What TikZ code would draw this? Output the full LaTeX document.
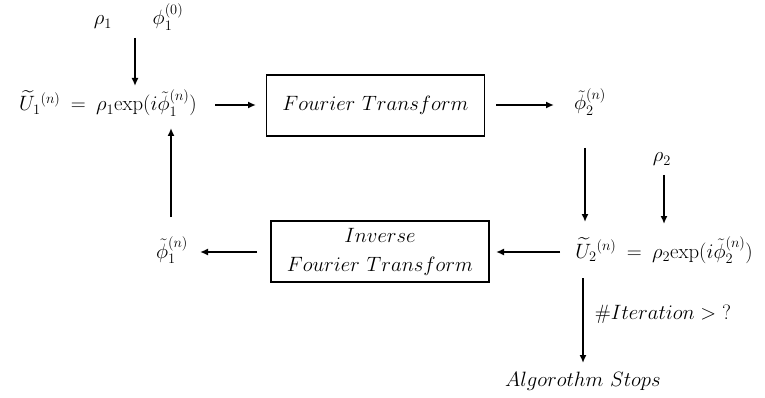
\documentclass[tikz,border=0pt]{standalone}
\usepackage{amsmath}
\usetikzlibrary{arrows.meta}
\begin{document}
\begin{tikzpicture}[x=1pt,y=-1pt,
  txt/.style={inner sep=0pt,font=\fontsize{22.5}{27}\selectfont},
  boxnode/.style={draw,line width=1.8pt,minimum width=218pt,minimum height=61pt,align=center,inner sep=2pt,font=\fontsize{22.5}{29}\selectfont},
  arr/.style={line width=1.8pt,-{Latex[length=8pt,width=7pt]}}]
\useasboundingbox (0,0) rectangle (765,398);
% nodes
\node[txt,anchor=base] (rho1) at (103,25) {$\rho_1$};
\node[txt,anchor=base] (phi10) at (168,25) {$\phi_1^{(0)}$};
\node[txt,anchor=base] (eq1) at (108,111) {$\widetilde{U}_1{}^{(n)}\:=\:\rho_1\mathrm{exp}(i\tilde{\phi}_1^{(n)})$};
\node[boxnode] (ft) at (375.5,105.5) {$Fourier\ Transform$};
\node[txt,anchor=base] (phi2) at (590,110) {$\tilde{\phi}_2^{(n)}$};
\node[txt,anchor=base] (rho2) at (662,162) {$\rho_2$};
\node[txt,anchor=base] (eq2) at (664,258) {$\widetilde{U}_2{}^{(n)}\:=\:\rho_2\mathrm{exp}(i\tilde{\phi}_2^{(n)})$};
\node[boxnode] (ift) at (380,251.5) {$Inverse$\\$Fourier\ Transform$};
\node[txt,anchor=base] (phi1) at (172,258) {$\tilde{\phi}_1^{(n)}$};
\node[txt] (iter) at (663,314) {$\#Iteration>{?}$};
\node[txt,anchor=base] (stop) at (583,386) {$Algorothm\ Stops$};
% coordinates
\coordinate (a1s) at (135,38);
\coordinate (a1e) at (135,86);
\coordinate (a2s) at (215,105);
\coordinate (a2e) at (256,105);
\coordinate (a3s) at (496,105);
\coordinate (a3e) at (554,105);
\coordinate (a4s) at (585,148);
\coordinate (a4e) at (585,222);
\coordinate (a5s) at (664,175);
\coordinate (a5e) at (664,224);
\coordinate (a6s) at (560,252);
\coordinate (a6e) at (496,252);
\coordinate (a7s) at (257,252);
\coordinate (a7e) at (200,252);
\coordinate (a8s) at (171,217);
\coordinate (a8e) at (171,128);
\coordinate (a9s) at (583,278);
\coordinate (a9e) at (583,363);
% connectors
\draw[arr] (a1s) -- (a1e);
\draw[arr] (a2s) -- (a2e);
\draw[arr] (a3s) -- (a3e);
\draw[arr] (a4s) -- (a4e);
\draw[arr] (a5s) -- (a5e);
\draw[arr] (a6s) -- (a6e);
\draw[arr] (a7s) -- (a7e);
\draw[arr] (a8s) -- (a8e);
\draw[arr] (a9s) -- (a9e);
\end{tikzpicture}
\end{document}
